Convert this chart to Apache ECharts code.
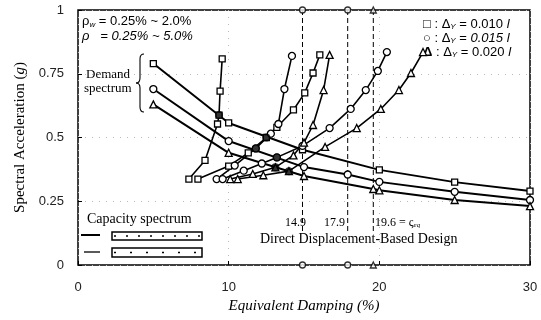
<!DOCTYPE html>
<html><head><meta charset="utf-8">
<script src="https://cdn.jsdelivr.net/npm/echarts@6/dist/echarts.min.js"></script>
<style>html,body{margin:0;padding:0;background:#fff}#c{width:541px;height:320px}</style>
</head><body><div id="c"></div>
<script>
// ---- tick values
const xTicks = [0, 10, 20, 30];
const yTicks = [0, 0.25, 0.5, 0.75, 1];
// ---- demand spectra (Equivalent damping %, Sa g)
const demandSq = [[5,0.79],[10,0.557],[14.9,0.452],[20,0.373],[25,0.325],[30,0.29]];
const demandCi = [[5,0.69],[10,0.486],[15,0.384],[17.9,0.355],[20,0.326],[25,0.287],[30,0.255]];
const demandTr = [[5,0.63],[10,0.44],[15,0.349],[19.6,0.298],[20,0.293],[25,0.255],[30,0.231]];
// ---- capacity spectra
const capSqA = [[7.36,0.337],[8.43,0.41],[9.26,0.553],[9.36,0.588],[9.43,0.682],[9.57,0.808]];
const capSqB = [[7.96,0.337],[10.0,0.388],[11.3,0.44],[12.5,0.5],[13.2,0.54],[14.3,0.608],[15.05,0.675],[15.6,0.753],[16.05,0.824]];
const capCiA = [[9.2,0.337],[10.4,0.39],[11.8,0.457],[12.8,0.515],[13.3,0.553],[13.7,0.69],[14.2,0.82]];
const capCiB = [[9.6,0.337],[11.0,0.37],[12.2,0.398],[13.2,0.422],[14.9,0.467],[16.7,0.537],[18.1,0.612],[19.1,0.686],[19.9,0.761],[20.5,0.835]];
const capTrA = [[10.1,0.337],[11.6,0.357],[13.1,0.383],[14.3,0.43],[15.0,0.48],[15.6,0.549],[16.3,0.686],[16.7,0.824]];
const capTrB = [[10.6,0.337],[12.3,0.352],[14.0,0.368],[16.4,0.463],[18.5,0.537],[20.1,0.612],[21.3,0.686],[22.1,0.753],[22.9,0.835]];
// ---- design points (intersections)
const designPts = [[9.36,0.588],[12.5,0.5],[11.8,0.457],[13.2,0.422],[13.1,0.383],[14.0,0.368]];
// ---- direct displacement-based design damping
const ddbdX = [14.9, 17.9, 19.6];
const ddbdSym = ['circle','circle','triangle'];
const ddbdLow = 0.13;

const SERIF = '"Liberation Serif","DejaVu Serif",serif';
const SANS = '"Liberation Sans",Arial,sans-serif';

const chart = echarts.init(document.getElementById('c'), null, {renderer:'canvas'});

const mk = {color:'#fff', borderColor:'#000', borderWidth:1.3};
function lineS(data, sym, size, w){
  return {type:'line', data:data, symbol:sym, symbolSize:size, showSymbol:true,
    lineStyle:{color:'#000', width:w}, itemStyle:mk, z:3, animation:false};
}
const series = [
  lineS(demandSq,'rect',6,2), lineS(demandCi,'circle',7,2), lineS(demandTr,'triangle',7,2),
  lineS(capSqA,'rect',6,1.6), lineS(capSqB,'rect',6,1.6),
  lineS(capCiA,'circle',7,1.6), lineS(capCiB,'circle',7,1.6),
  lineS(capTrA,'triangle',7,1.6), lineS(capTrB,'triangle',7,1.6)
];
ddbdX.forEach(function(x){
  series.push({type:'line', data:[[x,1],[x,ddbdLow]], symbol:'none',
    lineStyle:{color:'#000', width:1, type:[5,3]}, z:2, animation:false});
});
const edgeMarks = [];
ddbdX.forEach(function(x,i){
  edgeMarks.push({value:[x,1], symbol:ddbdSym[i]});
  edgeMarks.push({value:[x,0], symbol:ddbdSym[i]});
});
series.push({type:'scatter', data:edgeMarks, symbolSize:6, itemStyle:mk, clip:false, z:5, animation:false});
series.push({type:'scatter', data:designPts, symbol:'circle', symbolSize:8,
  itemStyle:{color:'#000'}, z:6, animation:false});

const L = 78, T = 10, R = 530, B = 265;
const legRich = {s:{font:'italic 8px '+SANS, padding:[5,0,0,0]}, i:{font:'italic 13px '+SANS}, b:{font:'bold 13px '+SANS}};
const br = {stroke:'#000', lineWidth:1.1, fill:null};
const graphic = [
  {type:'text', left:82, top:15, style:{text:'ρ{s|w} = 0.25% ~ 2.0%', font:'13px '+SANS, fill:'#000',
    rich:{s:{font:'italic 8px '+SANS, padding:[6,0,0,0]}}}},
  {type:'text', left:82, top:30, style:{text:'ρ   = 0.25% ~ 5.0%', font:'italic 13px '+SANS, fill:'#000'}},
  {type:'text', left:86, top:68, style:{text:'Demand', font:'13px '+SERIF, fill:'#000'}},
  {type:'text', left:84, top:82, style:{text:'spectrum', font:'13px '+SERIF, fill:'#000'}},
  {type:'bezierCurve', shape:{x1:144,y1:54,x2:140,y2:59,cpx1:140,cpy1:54}, style:br},
  {type:'line', shape:{x1:140,y1:59,x2:140,y2:78}, style:br},
  {type:'bezierCurve', shape:{x1:140,y1:78,x2:136,y2:83,cpx1:140,cpy1:83}, style:br},
  {type:'bezierCurve', shape:{x1:136,y1:83,x2:140,y2:88,cpx1:140,cpy1:83}, style:br},
  {type:'line', shape:{x1:140,y1:88,x2:140,y2:107}, style:br},
  {type:'bezierCurve', shape:{x1:140,y1:107,x2:144,y2:112,cpx1:140,cpy1:112}, style:br},
  {type:'text', left:423, top:18, style:{text:'{b|□} : Δ{s|Y} = 0.010 {i|l}', font:'13px '+SANS, fill:'#000', rich:legRich}},
  {type:'text', left:423, top:32, style:{text:'{b|○} : Δ{s|Y} = {i|0.015 l}', font:'13px '+SANS, fill:'#000', rich:legRich}},
  {type:'text', left:423, top:46, style:{text:'{b|Δ} : Δ{s|Y} = 0.020 {i|l}', font:'13px '+SANS, fill:'#000', rich:legRich}},
  {type:'text', left:285, top:217, style:{text:'14.9', font:'12px '+SERIF, fill:'#000'}},
  {type:'text', left:324, top:217, style:{text:'17.9', font:'12px '+SERIF, fill:'#000'}},
  {type:'text', left:375, top:217, style:{text:'19.6 = ς{s|eq}', font:'12px '+SERIF, fill:'#000',
    rich:{s:{font:'italic 7px '+SERIF, padding:[5,0,0,0]}}}},
  {type:'text', left:260, top:232, style:{text:'Direct Displacement-Based Design', font:'14px '+SERIF, fill:'#000'}},
  {type:'text', left:87, top:212, style:{text:'Capacity spectrum', font:'14px '+SERIF, fill:'#000'}},
  {type:'line', shape:{x1:81,y1:235,x2:100,y2:235}, style:{stroke:'#000', lineWidth:2}},
  {type:'line', shape:{x1:84,y1:252,x2:100,y2:252}, style:{stroke:'#000', lineWidth:1.3}},
  {type:'rect', shape:{x:112,y:232,width:90,height:8}, style:{fill:'#fff', stroke:'#000', lineWidth:1.5}},
  {type:'line', shape:{x1:114,y1:236,x2:200,y2:236}, style:{stroke:'#000', lineWidth:1.5, lineDash:[2,10]}},
  {type:'rect', shape:{x:112,y:248,width:90,height:9}, style:{fill:'#fff', stroke:'#000', lineWidth:1.5}},
  {type:'line', shape:{x1:114,y1:252.5,x2:200,y2:252.5}, style:{stroke:'#000', lineWidth:1.5, lineDash:[2,14]}}
];

chart.setOption({
  animation:false,
  backgroundColor:'#fff',
  grid:{left:L, top:T, right:541-R, bottom:320-B, show:true, borderColor:'#000', borderWidth:1.5, backgroundColor:'transparent'},
  xAxis:{type:'value', min:xTicks[0], max:xTicks[xTicks.length-1], interval:10,
    name:'Equivalent Damping (%)', nameLocation:'middle', nameGap:27,
    nameTextStyle:{fontFamily:SERIF, fontStyle:'italic', fontSize:15, color:'#000'},
    axisLine:{show:false}, axisTick:{show:true, inside:true, length:4, lineStyle:{color:'#000'}},
    axisLabel:{margin:16, fontFamily:SANS, fontSize:13, color:'#222'},
    splitLine:{show:true, lineStyle:{color:'#bbb', type:[1,6], width:1}}},
  yAxis:{type:'value', min:yTicks[0], max:yTicks[yTicks.length-1], interval:0.25,
    name:'Spectral Acceleration ({i|g})', nameLocation:'middle', nameGap:48,
    nameTextStyle:{fontFamily:SERIF, fontSize:15, color:'#000', rich:{i:{fontFamily:SERIF, fontStyle:'italic', fontSize:15}}},
    axisLine:{show:false}, axisTick:{show:true, inside:true, length:4, lineStyle:{color:'#000'}},
    axisLabel:{margin:14, fontFamily:SANS, fontSize:13, color:'#222'},
    splitLine:{show:true, lineStyle:{color:'#bbb', type:[1,6], width:1}}},
  series:series,
  graphic:graphic
});
</script></body></html>
